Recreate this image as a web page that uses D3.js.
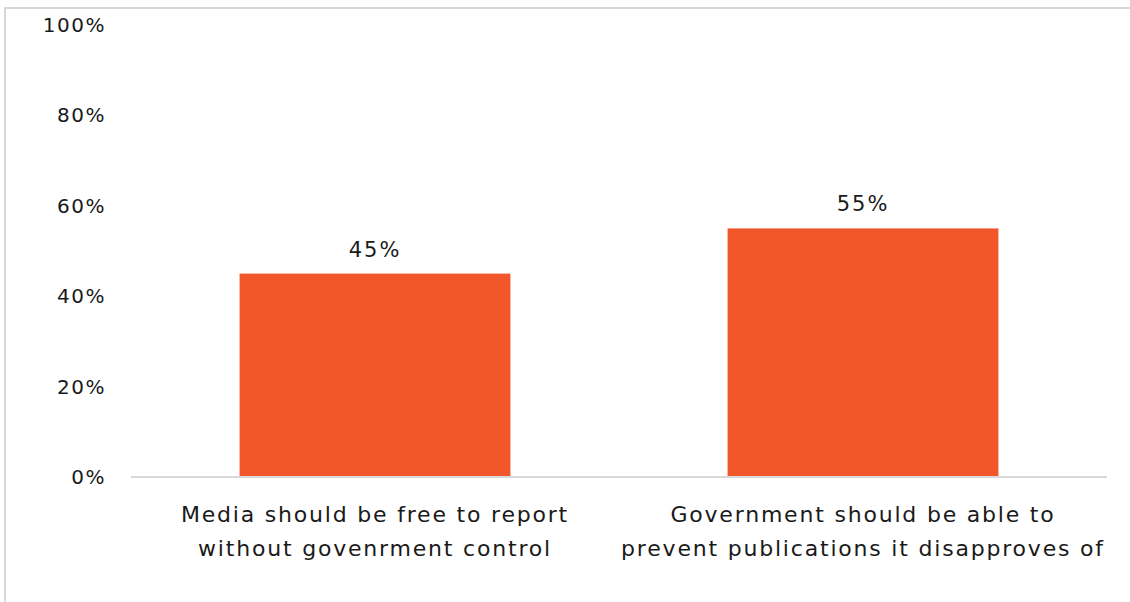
<!DOCTYPE html>
<html>
<head>
<meta charset="utf-8">
<script src="https://cdn.jsdelivr.net/npm/d3@7"></script>
<style>
  html, body { margin: 0; padding: 0; background: #fff; }
  svg { display: block; }
  text { font-family: "DejaVu Sans", sans-serif; fill: #1a1a1a; }
</style>
</head>
<body>
<svg id="chart" width="1130" height="602"></svg>
<script>
// Survey responses: share choosing each statement
const categories = [
  ["Media should be free to report", "without govenrment control"],
  ["Government should be able to", "prevent publications it disapproves of"]
];
const values = [45, 55];
const yTicks = [0, 20, 40, 60, 80, 100];

const svg = d3.select("#chart");
const W = 1130, H = 602;

// Outer frame (top and left edges visible)
svg.append("path")
  .attr("d", `M5,${H} L5,8 L${W},8`)
  .attr("fill", "none")
  .attr("stroke", "#d9d9d9")
  .attr("stroke-width", 2);

const plot = { left: 131, right: 1107, top: 25, bottom: 477 };

const x = d3.scaleBand()
  .domain(d3.range(categories.length))
  .range([plot.left, plot.right])
  .paddingInner(0.445)
  .paddingOuter(0.2225);

const y = d3.scaleLinear()
  .domain([0, 100])
  .range([plot.bottom, plot.top]);

// Y axis tick labels (no axis line)
const yAxis = d3.axisLeft(y)
  .tickValues(yTicks)
  .tickFormat(d => d + "%")
  .tickSize(0)
  .tickPadding(0);

const yg = svg.append("g")
  .attr("transform", `translate(106,0)`)
  .call(yAxis);
yg.select(".domain").remove();
yg.selectAll("text")
  .attr("font-size", 20)
  .attr("letter-spacing", 1.5)
  .attr("font-family", "DejaVu Sans, sans-serif")
  .attr("fill", "#1a1a1a");

// Bars
svg.append("g")
  .selectAll("rect")
  .data(values)
  .join("rect")
  .attr("x", (d, i) => x(i))
  .attr("width", x.bandwidth())
  .attr("y", d => y(d))
  .attr("height", d => y(0) - y(d))
  .attr("fill", "#f1572b");

// Baseline
svg.append("line")
  .attr("x1", plot.left).attr("x2", plot.right)
  .attr("y1", plot.bottom).attr("y2", plot.bottom)
  .attr("stroke", "#d9d9d9")
  .attr("stroke-width", 2);

// Value labels
svg.append("g")
  .selectAll("text")
  .data(values)
  .join("text")
  .attr("x", (d, i) => x(i) + x.bandwidth() / 2)
  .attr("y", d => y(d) - 17)
  .attr("text-anchor", "middle")
  .attr("font-size", 21)
  .attr("letter-spacing", 2)
  .text(d => d + "%");

// Category labels (two lines each)
const catG = svg.append("g");
categories.forEach((lines, i) => {
  const t = catG.append("text")
    .attr("x", x(i) + x.bandwidth() / 2)
    .attr("y", 522)
    .attr("text-anchor", "middle")
    .attr("font-size", 22)
    .attr("letter-spacing", 1.8);
  lines.forEach((ln, j) => {
    t.append("tspan")
      .attr("x", x(i) + x.bandwidth() / 2)
      .attr("dy", j === 0 ? 0 : 34)
      .text(ln);
  });
});
</script>
</body>
</html>
